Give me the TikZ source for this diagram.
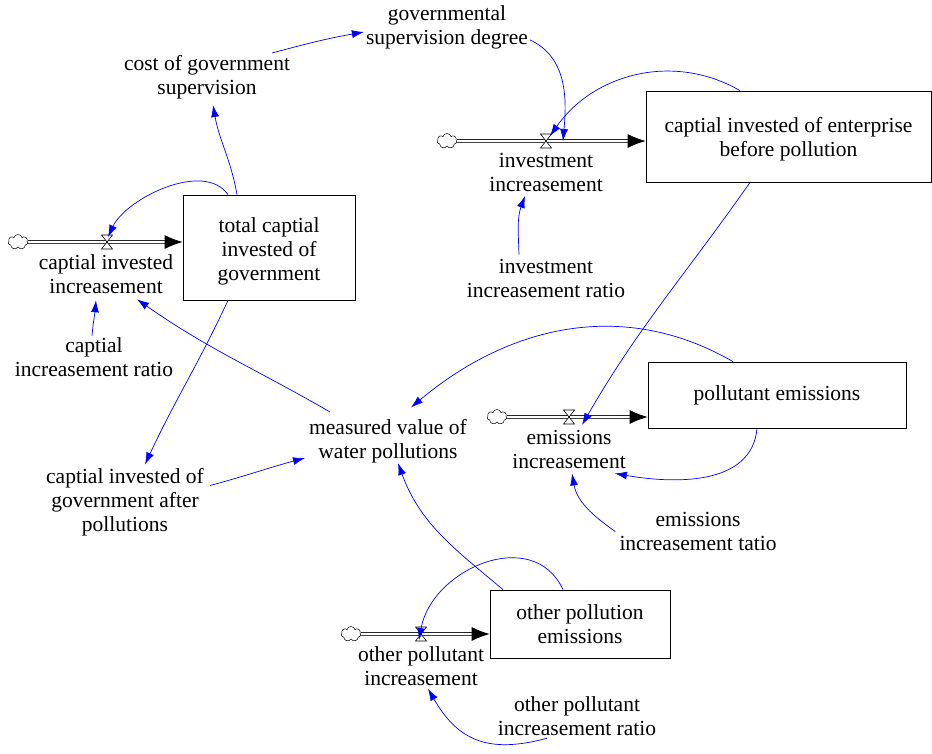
\documentclass[tikz,border=0pt]{standalone}
\usepackage{fontspec}
\setmainfont{Liberation Serif}
\usetikzlibrary{arrows.meta, shapes.symbols}
\tikzset{
  stock/.style={draw, rectangle, line width=0.8pt, align=center, inner sep=0pt},
  aux/.style={align=center, inner sep=2pt},
  cloudy/.style={cloud, cloud puffs=7, draw, line width=0.5pt, minimum width=20pt, minimum height=15pt, inner sep=0pt},
  pipe/.style={draw=black!85, double=white, double distance=2pt, line width=0.8pt},
  pipetip/.style={-{Latex[length=18pt,width=14pt]}, line width=0.8pt},
  valvebox/.style={draw, fill=white, line width=0.6pt},
  link/.style={blue, line width=0.7pt, -{Latex[length=12pt,width=8pt]}}
}
\newcommand{\valve}[1]{\draw[valvebox] ([shift={(-5.5,7)}]#1) -- ++(11,0) -- ++(-11,-14) -- ++(11,0) -- cycle;}

\begin{document}
\begin{tikzpicture}[x=1pt, y=1pt, font=\fontsize{21.5}{24}\selectfont]
\useasboundingbox (0,0) rectangle (932,-753);

% stocks
\node[stock, minimum width=172, minimum height=105, text height=70.5pt] (gov) at (269,-247.5) {total captial\\invested of\\government};
\node[stock, minimum width=285, minimum height=91, text height=45pt] (ent) at (788.5,-136.5) {captial invested of enterprise\\before pollution};
\node[stock, minimum width=258, minimum height=66] (pol) at (777,-395) {pollutant emissions};
\node[stock, minimum width=180, minimum height=68] (oth) at (580,-624) {other pollution\\emissions};

% flows
\node[cloudy] (cl1) at (18,-242) {};
\node[cloudy] (cl2) at (447,-141) {};
\node[cloudy] (cl3) at (497,-417) {};
\node[cloudy] (cl4) at (351,-634) {};
\coordinate (v1) at (107,-242);
\coordinate (v2) at (546,-141);
\coordinate (v3) at (569,-417);
\coordinate (v4) at (421,-634);
\coordinate (in1) at (gov.west |- v1);
\coordinate (in2) at (ent.west |- v2);
\coordinate (in3) at (pol.west |- v3);
\coordinate (in4) at (oth.west |- v4);

\draw[pipe] (cl1.east) -- ([xshift=-16pt]in1);
\draw[pipetip] ([xshift=-18pt]in1) -- (in1);
\draw[pipe] (cl2.east) -- ([xshift=-16pt]in2);
\draw[pipetip] ([xshift=-18pt]in2) -- (in2);
\draw[pipe] (cl3.east) -- ([xshift=-16pt]in3);
\draw[pipetip] ([xshift=-18pt]in3) -- (in3);
\draw[pipe] (cl4.east) -- ([xshift=-16pt]in4);
\draw[pipetip] ([xshift=-18pt]in4) -- (in4);
\valve{v1}
\valve{v2}
\valve{v3}
\valve{v4}

\node[aux] (cii) at (106,-274.5) {captial invested\\increasement};
\node[aux] (ii) at (546,-172) {investment\\increasement};
\node[aux] (ei) at (569,-449) {emissions\\increasement};
\node[aux] (opi) at (421,-666) {other pollutant\\increasement};

% auxiliaries
\node[aux] (cgs) at (207,-77) {cost of government\\supervision};
\node[aux] (gsd) at (447,-27) {governmental\\supervision degree};
\node[aux] (iir) at (546,-278.5) {investment\\increasement ratio};
\node[aux] (cir) at (94,-357.5) {captial\\increasement ratio};
\node[aux] (mvw) at (388,-441) {measured value of\\water pollutions};
\node[aux] (cga) at (125,-502.5) {captial invested of\\government after\\pollutions};
\node[aux] (eit) at (698,-531.5) {emissions\\increasement tatio};
\node[aux] (opr) at (577,-716.5) {other pollutant\\increasement ratio};

% links
\draw[link] ([xshift=-32pt]gov.north) to[out=100, in=-80] ([shift={(6,-4)}]cgs.south);
\draw[link] ([xshift=-20pt]cgs.north east) to[out=15, in=190] ([yshift=-5pt]gsd.west);
\draw[link] ([yshift=-13pt]gsd.east) to[out=-25, in=85] ([xshift=17pt]v2);
\draw[link] ([xshift=-48.5pt]ent.north) to[out=150, in=55] ([shift={(4,5)}]v2);
\draw[link] ([xshift=-38.5pt]ent.south) to[out=-125, in=60] ([shift={(13,-8)}]v3);
\draw[link] ([xshift=-41pt]gov.north) to[out=125, in=65, looseness=0.85] ([shift={(1,5)}]v1);
\draw[link] ([xshift=-41pt]gov.south) to[out=-115, in=65] ([shift={(20,2)}]cga.north);
\draw[link] ([shift={(4,17)}]cga.east) to[out=15, in=195] ([shift={(-2,-17)}]mvw.west);
\draw[link] ([xshift=-2pt]cir.north) to[out=85, in=-95] ([shift={(-10,-4)}]cii.south);
\draw[link] ([shift={(-58,5)}]mvw.north) to[out=150, in=-35] ([shift={(31,-3)}]cii.south);
\draw[link] ([xshift=-44pt]pol.north) to[out=150, in=40] ([shift={(23,9.5)}]mvw.north);
\draw[link] ([xshift=-20pt]pol.south) to[out=-95, in=-10] ([shift={(-13,-3)}]ei.south east);
\draw[link] ([xshift=-2pt]eit.west) to[out=145, in=-80] ([shift={(3,-3)}]ei.south);
\draw[link] ([xshift=-77pt]oth.north) to[out=140, in=-70] ([shift={(10,2)}]mvw.south);
\draw[link] ([xshift=-17pt]oth.north) to[out=115, in=80, looseness=1.2] ([shift={(-2,-6)}]v4);
\draw[link] ([xshift=-30pt]opr.south) to[out=195, in=-60, looseness=1.2] ([shift={(7,-1)}]opi.south);
\draw[link] ([shift={(-27,2.5)}]iir.north) to[out=92, in=-110] ([shift={(-21,-2.5)}]ii.south);
\end{tikzpicture}
\end{document}
